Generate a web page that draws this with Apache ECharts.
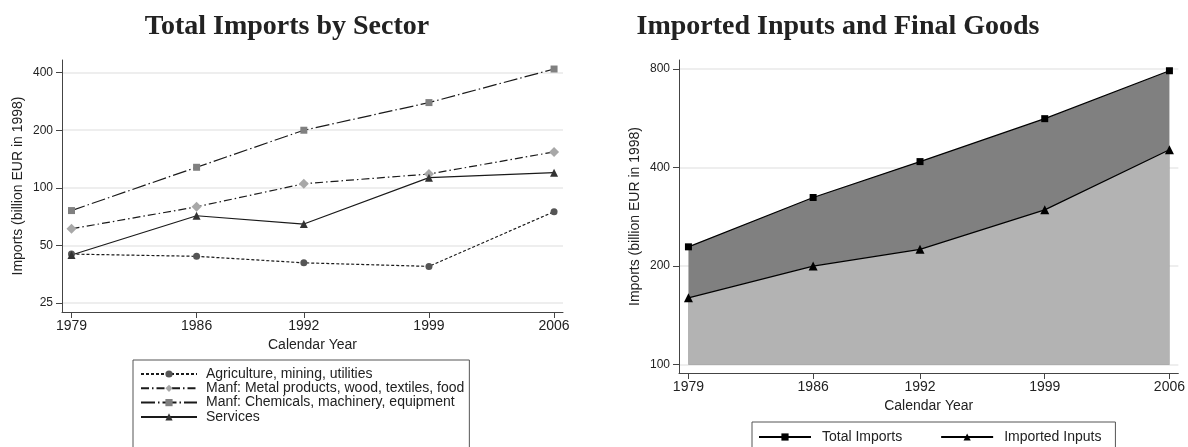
<!DOCTYPE html>
<html>
<head>
<meta charset="utf-8">
<script src="https://cdn.jsdelivr.net/npm/echarts@6/dist/echarts.min.js"></script>
<style>html,body{margin:0;padding:0;background:#fff;}#c{width:1188px;height:447px;}</style>
</head>
<body>
<div id="c"></div>
<script>
// ---- data ----
const years = [1979, 1986, 1992, 1999, 2006];
const yearTicks = [1979, 1986, 1992, 1999, 2006];
const leftYTicks = [25, 50, 100, 200, 400];
const rightYTicks = [100, 200, 400, 800];
const agri = [45.0, 43.8, 40.5, 38.8, 75];
const metal = [61, 79.5, 105, 118, 154];
const chem = [76, 128, 200, 279, 418];
const serv = [44.5, 71.4, 64.6, 113, 120];
const totalImports = [229, 324, 417, 564, 790];
const importedInputs = [160, 200, 225, 297, 453];
const leftNames = ['Agriculture, mining, utilities', 'Manf: Metal products, wood, textiles, food', 'Manf: Chemicals, machinery, equipment', 'Services'];
const rightNames = ['Total Imports', 'Imported Inputs'];

const pair = arr => years.map((y, i) => [y, arr[i]]);
const txt = '#222';
const axisCol = '#444';
const font = 'Liberation Sans, Arial, sans-serif';

function xAxis(gridIndex) {
  return {
    type: 'value', gridIndex, min: 1978.47, max: 2006.5,
    name: 'Calendar Year', nameLocation: 'middle', nameGap: 24,
    nameTextStyle: { color: txt, fontSize: 14, fontFamily: font },
    axisLine: { show: true, lineStyle: { color: axisCol, width: 1 } },
    axisTick: { show: true, length: 6, customValues: yearTicks, lineStyle: { color: axisCol } },
    axisLabel: { customValues: yearTicks, formatter: v => String(v), color: txt, fontSize: 14, fontFamily: font, margin: 7 },
    splitLine: { show: false }
  };
}
function yAxis(gridIndex, min, max, ticks) {
  return {
    type: 'log', logBase: 2, gridIndex, min, max,
    name: 'Imports (billion EUR in 1998)', nameLocation: 'middle', nameGap: 37,
    nameTextStyle: { color: txt, fontSize: 14, fontFamily: font },
    axisLine: { show: true, lineStyle: { color: axisCol, width: 1 } },
    axisTick: { show: true, length: 6, customValues: ticks, lineStyle: { color: axisCol } },
    axisLabel: { customValues: ticks, formatter: v => String(Math.round(v)), color: txt, fontSize: 12, fontFamily: font, margin: 9 },
    splitLine: { show: true, lineStyle: { color: '#e8e8e8', width: 1.5 } }
  };
}
function lineSeries(name, data, symbol, size, symCol, dash) {
  return {
    type: 'line', name, xAxisIndex: 0, yAxisIndex: 0, data: pair(data),
    symbol, symbolSize: size, showSymbol: true,
    itemStyle: { color: symCol },
    lineStyle: { color: '#1a1a1a', width: 1.2, type: dash },
    emphasis: { disabled: true }, animation: false
  };
}

const option = {
  animation: false,
  backgroundColor: '#fff',
  graphic: [
    { type: 'text', x: 287, y: 27, style: { text: 'Total Imports by Sector', fill: txt, font: 'bold 28px "Liberation Serif", "Times New Roman", serif', textAlign: 'center', textVerticalAlign: 'middle' } },
    { type: 'text', x: 838, y: 27, style: { text: 'Imported Inputs and Final Goods', fill: txt, font: 'bold 28px "Liberation Serif", "Times New Roman", serif', textAlign: 'center', textVerticalAlign: 'middle' } }
  ],
  grid: [
    { left: 62, top: 60, width: 501, height: 252 },
    { left: 679, top: 60, width: 501, height: 313 }
  ],
  xAxis: [xAxis(0), xAxis(1)],
  yAxis: [yAxis(0, 22.4, 466, leftYTicks), yAxis(1, 94.3, 852, rightYTicks)],
  legend: [
    {
      data: leftNames, orient: 'vertical', left: 133, top: 360, height: 120,
      padding: [7, 5, 40, 7], itemGap: 0.3, itemWidth: 56, itemHeight: 9,
      borderColor: '#555', borderWidth: 1, borderRadius: 0,
      textStyle: { color: txt, fontSize: 14, fontFamily: font, lineHeight: 14, padding: [0, 0, 0, 4] },
      selectedMode: false
    },
    {
      data: rightNames, orient: 'horizontal', left: 752, top: 422,
      padding: [8, 14, 30, 6], itemGap: 38, itemWidth: 52, itemHeight: 9,
      borderColor: '#555', borderWidth: 1, borderRadius: 0,
      textStyle: { color: txt, fontSize: 14, fontFamily: font, lineHeight: 14, padding: [0, 0, 0, 6] },
      selectedMode: false
    }
  ],
  series: [
    lineSeries(leftNames[0], agri, 'circle', 7, '#555555', [3, 2]),
    lineSeries(leftNames[1], metal, 'diamond', 10, '#a8a8a8', [8, 3, 1.5, 3]),
    lineSeries(leftNames[2], chem, 'rect', 7, '#808080', [14, 3, 1.5, 3]),
    lineSeries(leftNames[3], serv, 'triangle', 8, '#333333', 'solid'),
    {
      type: 'line', name: rightNames[0], xAxisIndex: 1, yAxisIndex: 1, data: pair(totalImports),
      symbol: 'rect', symbolSize: 7, itemStyle: { color: '#000' },
      lineStyle: { color: '#000', width: 1.2 },
      areaStyle: { color: '#808080', opacity: 1, origin: 100 },
      emphasis: { disabled: true }
    },
    {
      type: 'line', name: rightNames[1], xAxisIndex: 1, yAxisIndex: 1, data: pair(importedInputs),
      symbol: 'triangle', symbolSize: 9, itemStyle: { color: '#000' },
      lineStyle: { color: '#000', width: 1.2 },
      areaStyle: { color: '#b3b3b3', opacity: 1, origin: 100 },
      emphasis: { disabled: true }
    }
  ]
};
const chart = echarts.init(document.getElementById('c'), null, { renderer: 'canvas' });
chart.setOption(option);
</script>
</body>
</html>
